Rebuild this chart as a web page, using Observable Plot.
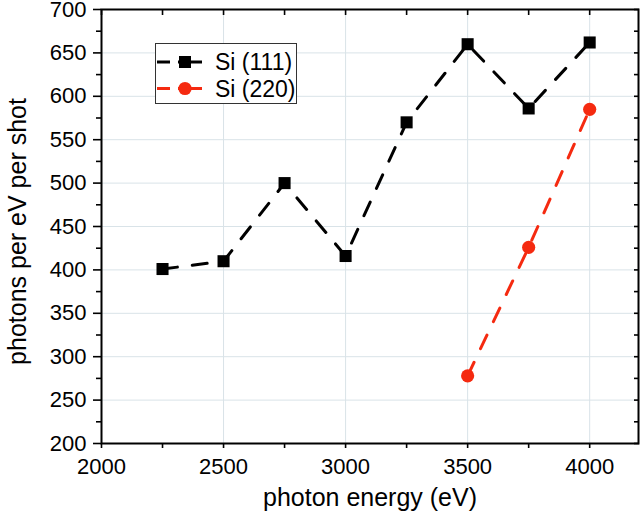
<!DOCTYPE html>
<html>
<head>
<meta charset="utf-8">
<script src="https://cdn.jsdelivr.net/npm/d3@7"></script>
<script src="https://cdn.jsdelivr.net/npm/@observablehq/plot@0.6"></script>
<style>
  html, body { margin: 0; padding: 0; background: #fff; }
  #wrap { position: relative; width: 640px; height: 520px; font-family: "Liberation Sans", Arial, sans-serif; }
</style>
</head>
<body>
<div id="wrap"></div>
<script>
// ---- data ----
const energies111 = [2250, 2500, 2750, 3000, 3250, 3500, 3750, 4000];
const photons111  = [401, 410, 500, 416, 570, 660, 586, 662];
const energies220 = [3500, 3750, 4000];
const photons220  = [278, 426, 585];
const seriesNames = ["Si (111)", "Si (220)"];
const seriesColors = ["#000000", "#f52a10"];

const xMajor = [2000, 2500, 3000, 3500, 4000];
const xMinor = [2250, 2750, 3250, 3750];
const yMajor = [200, 250, 300, 350, 400, 450, 500, 550, 600, 650, 700];
const yMinor = [225, 275, 325, 375, 425, 475, 525, 575, 625, 675];
const xTitle = "photon energy (eV)";
const yTitle = "photons per eV per shot";

const s111 = energies111.map((x, i) => ({x, y: photons111[i]}));
const s220 = energies220.map((x, i) => ({x, y: photons220[i]}));
const xAll = [...xMajor, ...xMinor].sort((a, b) => a - b);
const yAll = [...yMajor, ...yMinor].sort((a, b) => a - b);
const dash = "15,15";
const fmt = d => String(d);

const chart = Plot.plot({
  width: 640,
  height: 520,
  marginLeft: 101,
  marginRight: 2,
  marginTop: 9,
  marginBottom: 77,
  style: {fontFamily: "'Liberation Sans', Arial, sans-serif", fontSize: "22px", background: "white", color: "black"},
  x: {domain: [2000, 4200]},
  y: {domain: [200, 700]},
  marks: [
    Plot.gridX(xMajor, {stroke: "#d9e3e8", strokeOpacity: 1, strokeWidth: 1}),
    Plot.gridY(yMajor, {stroke: "#d9e3e8", strokeOpacity: 1, strokeWidth: 1}),
    // bottom axis: outward ticks + labels
    Plot.axisX(xMajor, {anchor: "bottom", tickSize: 5, tickPadding: 10, tickFormat: fmt, fontSize: 22, strokeWidth: 1.6, label: null}),
    Plot.axisX(xMinor, {anchor: "bottom", tickSize: 5, text: null, strokeWidth: 1.6, label: null}),
    // top axis: inward ticks
    Plot.axisX(xAll, {anchor: "top", tickSize: 5, dy: 5, text: null, strokeWidth: 1.6, label: null}),
    // left axis
    Plot.axisY(yMajor, {anchor: "left", tickSize: 8, tickPadding: 7, tickFormat: fmt, fontSize: 22, strokeWidth: 1.6, label: null}),
    Plot.axisY(yMinor, {anchor: "left", tickSize: 5, text: null, strokeWidth: 1.6, label: null}),
    // right axis: inward ticks
    Plot.axisY(yAll, {anchor: "right", tickSize: 5, dx: -5, text: null, strokeWidth: 1.6, label: null}),
    // axis titles
    Plot.text([xTitle], {frameAnchor: "bottom", dy: 62, textAnchor: "middle", lineAnchor: "bottom", fontSize: 25, fill: "black"}),
    Plot.text([yTitle], {frameAnchor: "left", dx: -84, dy: 5, rotate: -90, textAnchor: "middle", lineAnchor: "middle", fontSize: 25, fill: "black"}),
    // series
    Plot.line(s111, {x: "x", y: "y", stroke: seriesColors[0], strokeWidth: 3, strokeDasharray: dash}),
    Plot.dot(s111, {x: "x", y: "y", symbol: "square", r: 6.8, fill: seriesColors[0], stroke: "none"}),
    Plot.line(s220, {x: "x", y: "y", stroke: seriesColors[1], strokeWidth: 3, strokeDasharray: dash}),
    Plot.dot(s220, {x: "x", y: "y", symbol: "circle", r: 6.6, fill: seriesColors[1], stroke: "none"}),
    Plot.frame({stroke: "black", strokeWidth: 2})
  ]
});

const wrap = document.getElementById("wrap");
wrap.appendChild(chart);

// legend (SVG overlay)
const W = 142, H = 61;
const rows = [19, 45.5];
const svgNS = "http://www.w3.org/2000/svg";
const leg = document.createElementNS(svgNS, "svg");
leg.setAttribute("width", W);
leg.setAttribute("height", H);
leg.style.position = "absolute";
leg.style.left = "155px";
leg.style.top = "43px";
let inner = `<rect x="0.5" y="0.5" width="${W - 1}" height="${H - 1}" fill="white" stroke="#333" stroke-width="1"/>`;
seriesNames.forEach((name, i) => {
  const y = rows[i];
  const c = seriesColors[i];
  inner += `<line x1="2" x2="15" y1="${y}" y2="${y}" stroke="${c}" stroke-width="3"/>`;
  inner += `<line x1="23" x2="47" y1="${y}" y2="${y}" stroke="${c}" stroke-width="3"/>`;
  if (i === 0) inner += `<rect x="${30 - 6}" y="${y - 6}" width="12" height="12" fill="${c}"/>`;
  else inner += `<circle cx="30" cy="${y}" r="6.6" fill="${c}"/>`;
  inner += `<text x="60" y="${y + 8}" font-size="23" font-family="'Liberation Sans', Arial, sans-serif" fill="black">${name}</text>`;
});
leg.innerHTML = inner;
wrap.appendChild(leg);
</script>
</body>
</html>
